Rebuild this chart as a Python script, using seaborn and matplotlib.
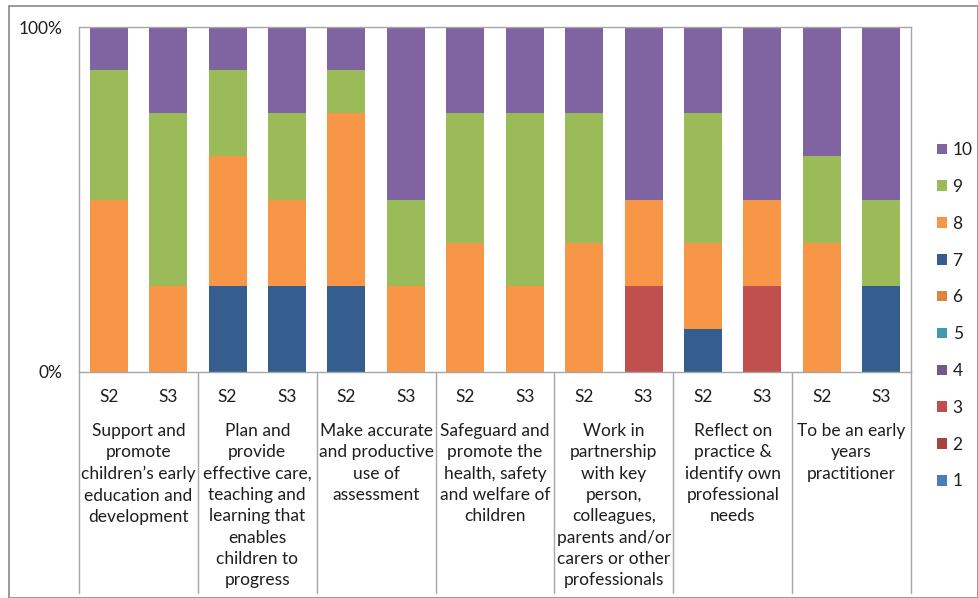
import matplotlib
matplotlib.use("Agg")
import matplotlib.pyplot as plt
import matplotlib.transforms as mtransforms
from matplotlib.patches import Rectangle, Patch
from matplotlib.lines import Line2D
import seaborn as sns
import pandas as pd
import numpy as np

# ---------------- data ----------------
groups = [
    "Support and\npromote\nchildren’s early\neducation and\ndevelopment",
    "Plan and\nprovide\neffective care,\nteaching and\nlearning that\nenables\nchildren to\nprogress",
    "Make accurate\nand productive\nuse of\nassessment",
    "Safeguard and\npromote the\nhealth, safety\nand welfare of\nchildren",
    "Work in\npartnership\nwith key\nperson,\ncolleagues,\nparents and/or\ncarers or other\nprofessionals",
    "Reflect on\npractice &\nidentify own\nprofessional\nneeds",
    "To be an early\nyears\npractitioner",
]
stages = ["S2", "S3"]
scores = ["1", "2", "3", "4", "5", "6", "7", "8", "9", "10"]

score_1 = [0, 0, 0, 0, 0, 0, 0, 0, 0, 0, 0, 0, 0, 0]
score_2 = [0, 0, 0, 0, 0, 0, 0, 0, 0, 0, 0, 0, 0, 0]
score_3 = [0, 0, 0, 0, 0, 0, 0, 0, 0, 25, 0, 25, 0, 0]
score_4 = [0, 0, 0, 0, 0, 0, 0, 0, 0, 0, 0, 0, 0, 0]
score_5 = [0, 0, 0, 0, 0, 0, 0, 0, 0, 0, 0, 0, 0, 0]
score_6 = [0, 0, 0, 0, 0, 0, 0, 0, 0, 0, 0, 0, 0, 0]
score_7 = [0, 0, 25, 25, 25, 0, 0, 0, 0, 0, 12.5, 0, 0, 25]
score_8 = [50, 25, 37.5, 25, 50, 25, 37.5, 25, 37.5, 25, 25, 25, 37.5, 0]
score_9 = [37.5, 50, 25, 25, 12.5, 25, 37.5, 50, 37.5, 0, 37.5, 0, 25, 25]
score_10 = [12.5, 25, 12.5, 25, 12.5, 50, 25, 25, 25, 50, 25, 50, 37.5, 50]

colors = ["#4A7EBB", "#A8423F", "#C0504D", "#71588F", "#4198AF",
          "#DB843D", "#355E8E", "#F79646", "#9BBB59", "#8064A2"]

series = [score_1, score_2, score_3, score_4, score_5,
          score_6, score_7, score_8, score_9, score_10]

bar_ids = [f"{g}|{s}" for g in range(len(groups)) for s in stages]
df = pd.DataFrame({"bar": bar_ids})
for sc, vals in zip(scores, series):
    df[sc] = vals
cum = df[scores].cumsum(axis=1)

# ---------------- figure ----------------
W, H = 979, 598
sns.set_style("white")
plt.rcParams["font.family"] = ["Lato", "DejaVu Sans"]
fig = plt.figure(figsize=(W / 100, H / 100), dpi=100)

FS = 12.5
TXT = "#1E1E1E"
left, right, top, bottom = 79, 911, 27, 372
ax = fig.add_axes([left / W, 1 - bottom / H, (right - left) / W, (bottom - top) / H])

# stacked bars: draw cumulative totals from top score down
for i in range(len(scores) - 1, -1, -1):
    sc = scores[i]
    sns.barplot(x=df["bar"], y=cum[sc], order=bar_ids, color=colors[i],
                width=0.64, saturation=1, ax=ax, linewidth=0, errorbar=None)

ax.set_xlim(-0.5, len(bar_ids) - 0.5)
ax.set_ylim(0, 100)
ax.set_yticks([0, 100])
ax.set_yticklabels(["0%", "100%"], fontsize=FS, color=TXT)
ax.tick_params(axis="y", length=0, pad=12)
ax.set_xticks([])
ax.set_xlabel("")
ax.set_ylabel("")
for sp in ax.spines.values():
    sp.set_color("#A6A6A6")
    sp.set_linewidth(1.0)

# multi-level category axis
trans = mtransforms.blended_transform_factory(ax.transData, fig.transFigure)
def fy(px):
    return 1 - px / H

for k in range(len(groups) + 1):
    x = -0.5 + 2 * k
    ax.add_line(Line2D([x, x], [fy(372), fy(593)], transform=trans,
                       color="#A6A6A6", lw=1.0, clip_on=False))
for j, b in enumerate(bar_ids):
    ax.text(j, fy(397), b.split("|")[1], transform=trans, ha="center",
            va="center", fontsize=FS, color=TXT)
for g, name in enumerate(groups):
    ax.text(2 * g + 0.5, fy(423), name, transform=trans, ha="center",
            va="top", fontsize=FS, color=TXT, linespacing=1.41)

# legend
handles = [Patch(facecolor=colors[i], edgecolor="none", label=scores[i])
           for i in range(len(scores) - 1, -1, -1)]
fig.legend(handles=handles, loc="upper left", bbox_to_anchor=(937 / W, fy(142)),
           frameon=False, fontsize=FS, handlelength=0.55, handleheight=0.55,
           handletextpad=0.35, labelspacing=1.2, borderpad=0, borderaxespad=0,
           labelcolor=TXT)

# chart border
fig.patches.append(Rectangle((9 / W, 0), (W - 10) / W, fy(6), transform=fig.transFigure,
                             fill=False, edgecolor="#878787", lw=1.2))

fig.savefig("out.png", dpi=100)
